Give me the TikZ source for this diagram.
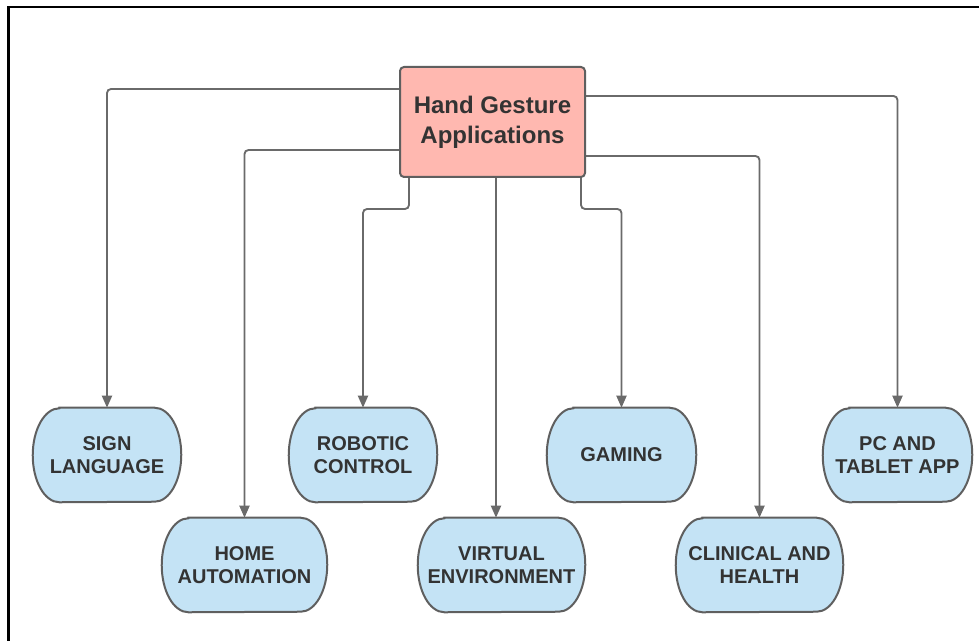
\documentclass[tikz,border=0pt]{standalone}
\usepackage{fontspec}
\setmainfont{Liberation Sans}
\usetikzlibrary{arrows.meta,calc,backgrounds}
\definecolor{hgfill}{HTML}{FFB8B0}
\definecolor{appfill}{HTML}{C4E3F5}
\definecolor{edgegray}{HTML}{5F5F5F}
\definecolor{conngray}{HTML}{6A6A6A}
\definecolor{txtgray}{HTML}{333333}
\newcommand\apprx{20pt}
\newcommand\appry{35.25pt}
\newcommand\appshape[1]{%
  \draw[appline] ([xshift=\apprx]#1.north west) -- ([xshift=-\apprx]#1.north east)
    arc[start angle=90,end angle=-90,x radius=\apprx,y radius=\appry]
    -- ([xshift=\apprx]#1.south west)
    arc[start angle=270,end angle=90,x radius=\apprx,y radius=\appry] -- cycle;}
\tikzset{
  hgbox/.style={draw=edgegray, fill=hgfill, line width=1.5pt, rounded corners=3pt,
    minimum width=138.75pt, minimum height=82.5pt, inner sep=0pt, align=center,
    text=txtgray, font=\fontsize{18}{22.5}\selectfont\bfseries},
  appbox/.style={minimum height=70.5pt, inner sep=0pt, align=center,
    text=txtgray, font=\fontsize{15}{17.5}\selectfont\bfseries},
  appline/.style={draw=edgegray, fill=appfill, line width=1.5pt},
  conn/.style={draw=conngray, line width=1.4pt, rounded corners=3pt,
    -{Triangle[length=9pt,width=7.5pt]}},
}
\begin{document}
\begin{tikzpicture}[x=0.75pt,y=-0.75pt]
\useasboundingbox (0,0) rectangle (979,641);
\draw[line width=1.7pt, black] (8.5,660) -- (8.5,7) -- (1000,7);

\node[hgbox] (hg) at (492.5,122) {Hand Gesture\\Applications};

\node[appbox, minimum width=111pt] (sl) at (107,455) {SIGN\\LANGUAGE};
\node[appbox, minimum width=123.75pt] (ha) at (244.5,565) {HOME\\AUTOMATION};
\node[appbox, minimum width=111pt] (rc) at (363,455) {ROBOTIC\\CONTROL};
\node[appbox, minimum width=125.25pt] (ve) at (501.5,565) {VIRTUAL\\ENVIRONMENT};
\node[appbox, minimum width=111.75pt] (ga) at (621.5,455) {GAMING};
\node[appbox, minimum width=125.25pt] (ch) at (759.5,565) {CLINICAL AND\\HEALTH};
\node[appbox, minimum width=111.75pt] (pc) at (897.5,455) {PC AND\\TABLET APP};

\begin{scope}[on background layer]
  \appshape{sl}\appshape{ha}\appshape{rc}\appshape{ve}\appshape{ga}\appshape{ch}\appshape{pc}
  \draw[conn] ($(hg.west)+(0,-33)$) -| (sl.north);
  \draw[conn] ($(hg.west)+(0,28)$) -| (ha.north);
  \draw[conn] ($(hg.south)+(-83.5,0)$) -- ++(0,31) -| (rc.north);
  \draw[conn] ($(hg.south)+(3.5,0)$) coordinate (vs) -- (vs |- ve.north);
  \draw[conn] ($(hg.south)+(88.5,0)$) -- ++(0,31) -| (ga.north);
  \draw[conn] ($(hg.east)+(0,34)$) -| (ch.north);
  \draw[conn] ($(hg.east)+(0,-26)$) -| (pc.north);
\end{scope}
\end{tikzpicture}
\end{document}
